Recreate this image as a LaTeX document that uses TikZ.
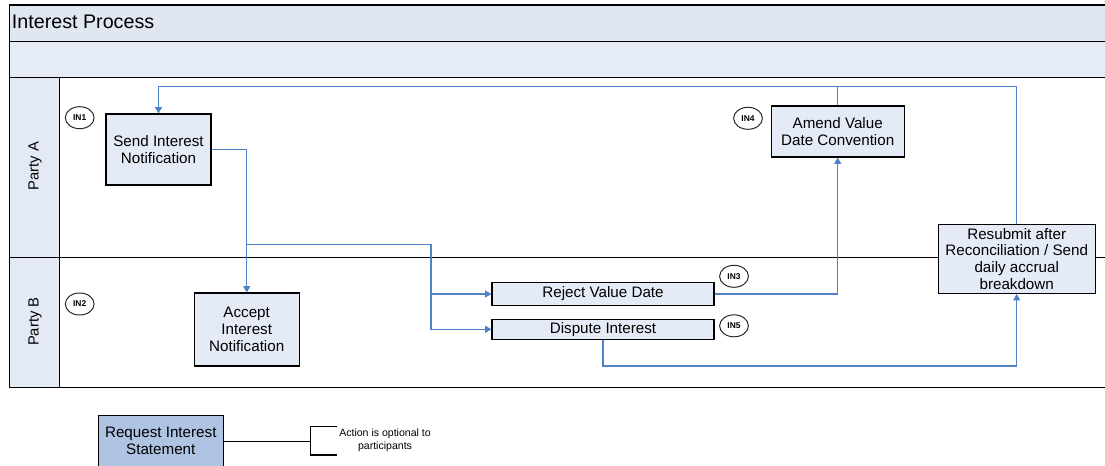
\documentclass[tikz,border=0pt]{standalone}
\usepackage{fontspec}
\setmainfont{Liberation Sans}
\usetikzlibrary{arrows.meta,shapes.geometric}
\definecolor{flowblue}{HTML}{4F81C7}
\definecolor{boxfill}{HTML}{E4EBF6}
\definecolor{headfill}{HTML}{E0E7F1}
\definecolor{bandfill}{HTML}{E6ECF6}
\definecolor{lanefill}{HTML}{E3EAF5}
\definecolor{reqfill}{HTML}{AFC3E3}
\tikzset{
  taskbox/.style={draw=black, line width=0.8pt, fill=boxfill, align=center, inner sep=1pt,
    font=\fontsize{10.8}{12}\selectfont},
  idmark/.style={draw=black!85, line width=0.7pt, fill=white, ellipse, inner sep=0pt,
    minimum width=0.72cm, minimum height=0.55cm, font=\fontsize{6}{7}\selectfont\bfseries},
  flow/.style={draw=flowblue, line width=0.8pt},
  flowarrow/.style={flow, -{Triangle[length=4.5pt,width=5pt]}},
  frameline/.style={draw=black, line width=0.9pt},
  lanetext/.style={rotate=90, font=\fontsize{10.5}{12}\selectfont}
}
\begin{document}
\begin{tikzpicture}[x=0.025cm,y=-0.025cm]
\useasboundingbox (0,0) rectangle (1105,466);
% pool frame
\fill[headfill] (9.3,5) rectangle (1110,41.3);
\fill[bandfill] (9.3,41.3) rectangle (1110,77.3);
\fill[lanefill] (9.3,77.3) rectangle (59.3,387.7);
\draw[frameline] (1110,5) -- (9.3,5) -- (9.3,387.7) -- (1110,387.7);
\draw[frameline] (9.3,41.3) -- (1110,41.3);
\draw[frameline] (9.3,77.3) -- (1110,77.3);
\draw[frameline] (9.3,257.3) -- (1110,257.3);
\draw[frameline] (59.3,77.3) -- (59.3,387.7);
\node[anchor=west, inner sep=0pt, font=\fontsize{14}{16}\selectfont] (title) at (11.7,21.7) {Interest Process};
\node[lanetext] (laneA) at (35,166) {Party A};
\node[lanetext] (laneB) at (35,321.7) {Party B};

% tasks
\node[taskbox, minimum width=2.625cm, minimum height=1.775cm] (send) at (158.5,149.5) {Send Interest\\Notification};
\node[taskbox, minimum width=2.625cm, minimum height=1.825cm] (accept) at (246.7,329.5) {Accept\\Interest\\Notification};
\node[taskbox, minimum width=5.55cm, minimum height=0.575cm] (reject) at (603,294) {Reject Value Date};
\node[taskbox, minimum width=5.55cm, minimum height=0.49cm] (dispute) at (603,329.3) {Dispute Interest};
\node[taskbox, minimum width=3.325cm, minimum height=1.275cm] (amend) at (837.7,131.5) {Amend Value\\Date Convention};
\node[taskbox, minimum width=3.93cm, minimum height=1.725cm] (resub) at (1016.7,259) {Resubmit after\\Reconciliation / Send\\daily accrual\\breakdown};

% id marks
\node[idmark] (in1) at (79.7,117.7) {IN1};
\node[idmark] (in2) at (79.7,304) {IN2};
\node[idmark] (in3) at (734,276.3) {IN3};
\node[idmark] (in4) at (748,118.3) {IN4};
\node[idmark] (in5) at (734,325.8) {IN5};

% connectors
\coordinate (tl) at (158.5,86.7);
\coordinate (br) at (246.7,244.3);
\coordinate (bx) at (431,244.3);
\coordinate (db) at (603,366);
\draw[flowarrow] (send.east) -| (accept.north);
\draw[flow] (br) -- (bx);
\draw[flowarrow] (bx) |- (reject.west);
\draw[flowarrow] (bx) |- (dispute.west);
\draw[flowarrow] (reject.east) -| (amend.south);
\draw[flowarrow] (resub.north) |- (tl) -- (send.north);
\draw[flow] (amend.north) -- (amend.north |- tl);
\draw[flowarrow] (dispute.south) |- (resub.south |- db) -- (resub.south);

% legend
\node[taskbox, fill=reqfill, minimum width=3.125cm, minimum height=1.375cm, anchor=north west,
  text depth=0.15cm] (req) at (97.7,415.3) {Request Interest\\Statement};
\coordinate (brk) at (310.7,441.7);
\draw[line width=0.8pt] (req.east |- brk) -- (brk);
\draw[line width=0.8pt] (336.5,426.7) -- (310.7,426.7) -- (310.7,455) -- (336.5,455);
\node[align=center, inner sep=0pt, font=\fontsize{7.5}{9}\selectfont] (note) at (385,440.5) {Action is optional to\\participants};
\end{tikzpicture}
\end{document}
